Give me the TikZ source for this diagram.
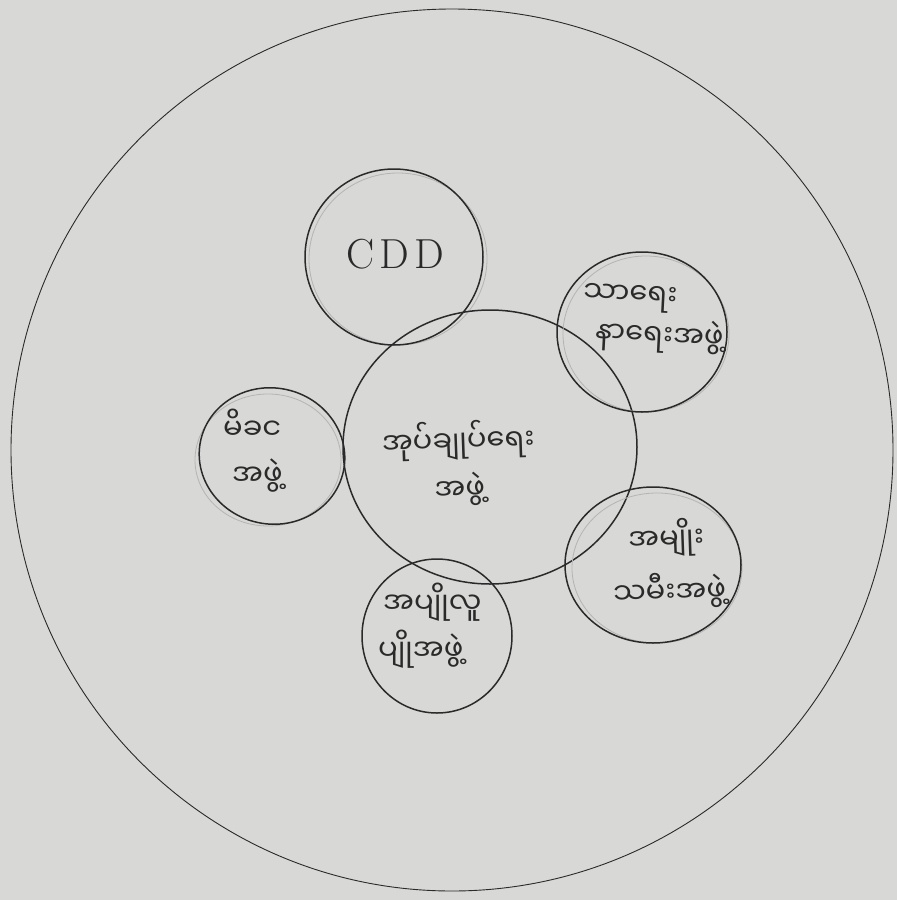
\documentclass[tikz,border=0pt]{standalone}
\usepackage{fontspec}
\newfontfamily\mya[Script=Myanmar]{Noto Sans Myanmar UI}
\usetikzlibrary{shapes.geometric}
\definecolor{paper}{RGB}{216,216,214}
\definecolor{ink}{RGB}{42,42,42}
\begin{document}
\begin{tikzpicture}[x=1pt,y=-1pt,
  bubble/.style={ellipse,draw=ink,line width=1.5pt,inner sep=0pt},
  ghost/.style={ellipse,draw=ink!35,line width=0.8pt,inner sep=0pt},
  lbl/.style={text=ink,font=\mya\fontsize{29}{#1}\selectfont,inner sep=0pt,align=left},
  latin/.style={text=ink,font=\fontsize{42}{44}\selectfont,inner sep=0pt}]
\fill[paper] (0,0) rectangle (897,900);
\useasboundingbox (0,0) rectangle (897,900);
% outer circle
\node[circle,draw=ink,line width=0.9pt,minimum size=882pt,inner sep=0pt] (outer) at (452,450) {};
% bubbles
\node[ghost,minimum width=178pt,minimum height=172pt] (cddg) at (398,259) {};
\node[bubble,minimum width=178pt,minimum height=176pt] (cdd) at (394,257) {};
\node[bubble,minimum width=294pt,minimum height=274pt] (centre) at (490,447) {};
\node[ghost,minimum width=166pt,minimum height=156pt] (welg) at (646,334) {};
\node[bubble,minimum width=170pt,minimum height=160pt] (welfare) at (642,332) {};
\node[ghost,minimum width=146pt,minimum height=132pt] (motg) at (268,460) {};
\node[bubble,minimum width=146pt,minimum height=136pt,rotate=-12] (mother) at (272,456) {};
\node[ghost,minimum width=170pt,minimum height=150pt] (womg) at (657,568) {};
\node[bubble,minimum width=176pt,minimum height=156pt] (women) at (653,565) {};
\node[bubble,minimum width=150pt,minimum height=154pt] (youth) at (437,636) {};
% labels
\node[latin] (tcdd) at (395,254) {C\hspace{5pt}D\hspace{5pt}D};
\node[lbl=48,align=center,rotate=2] (tcentre) at (459,464) {အုပ်ချုပ်ရေး\\အဖွဲ့};
\node[lbl=40,anchor=west,rotate=-3] (twelfare) at (582,316) {သာရေး\\\hspace*{14pt}နာရေးအဖွဲ့};
\node[lbl=46,anchor=west] (tmother) at (223,451) {မိခင\\\hspace*{9pt}အဖွဲ့};
\node[lbl=54,anchor=west,rotate=2] (twomen) at (612,566) {\hspace*{17pt}အမျိုး\\သမီးအဖွဲ့};
\node[lbl=47,anchor=west] (tyouth) at (378,626) {\hspace*{5pt}အပျိုလူ\\ပျိုအဖွဲ့};
\end{tikzpicture}
\end{document}
